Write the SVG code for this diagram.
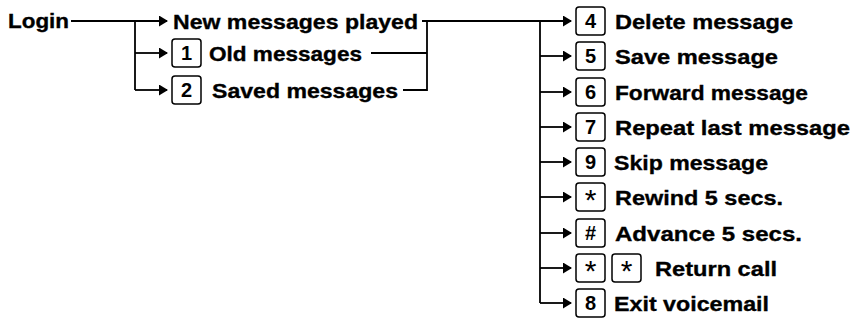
<svg xmlns="http://www.w3.org/2000/svg" width="858" height="322" viewBox="0 0 858 322">
<defs>
<marker id="arr" markerUnits="userSpaceOnUse" markerWidth="9" markerHeight="11" viewBox="0 0 9 11" refX="8" refY="5.5" orient="auto">
<path d="M0,0 L9,5.5 L0,11 z" fill="#000"/>
</marker>
<style>
.t{font-family:"Liberation Sans",Arial,sans-serif;font-weight:bold;font-size:21px;fill:#000;stroke:#000;stroke-width:0.35}
.k{font-family:"Liberation Sans",Arial,sans-serif;font-weight:bold;font-size:20px;fill:#000;text-anchor:middle}
.s{font-family:"Liberation Sans",Arial,sans-serif;font-size:30px;fill:#000;text-anchor:middle}
.b{fill:#fff;stroke:#000;stroke-width:1.5}
.c{fill:none;stroke:#000;stroke-width:1.8}
.a{marker-end:url(#arr)}
</style>
</defs>
<rect width="858" height="322" fill="#fff"/>
<g id="connectors">
<path class="c a" d="M71,21 H167"/>
<path class="c" d="M135,21 V90"/>
<path class="c a" d="M135,53 H167"/>
<path class="c a" d="M135,90 H167"/>
<path class="c" d="M371,53 H427"/>
<path class="c" d="M403,90 H427 V21"/>
<path class="c a" d="M422,21 H571"/>
<path class="c" d="M540,21 V303"/>
<path class="c a" d="M540,56 H571"/>
<path class="c a" d="M540,92 H571"/>
<path class="c a" d="M540,127 H571"/>
<path class="c a" d="M540,162 H571"/>
<path class="c a" d="M540,197 H571"/>
<path class="c a" d="M540,233 H571"/>
<path class="c a" d="M540,268 H571"/>
<path class="c a" d="M540,303 H571"/>
</g>
<g id="login"><text class="t" x="8" y="28" textLength="61" lengthAdjust="spacingAndGlyphs">Login</text></g>
<g id="new"><text class="t" x="173" y="29" textLength="245" lengthAdjust="spacingAndGlyphs">New messages played</text></g>
<g id="old"><rect class="b" x="172" y="39" width="29" height="28" rx="3"/><text class="k" x="186.5" y="60">1</text><text class="t" x="209" y="61" textLength="153" lengthAdjust="spacingAndGlyphs">Old messages</text></g>
<g id="saved"><rect class="b" x="172" y="76" width="29" height="28" rx="3"/><text class="k" x="186.5" y="97">2</text><text class="t" x="212" y="98" textLength="186" lengthAdjust="spacingAndGlyphs">Saved messages</text></g>
<g id="delete"><rect class="b" x="576" y="7" width="29" height="28" rx="3"/><text class="k" x="590.5" y="28">4</text><text class="t" x="615" y="29" textLength="178" lengthAdjust="spacingAndGlyphs">Delete message</text></g>
<g id="save"><rect class="b" x="576" y="42" width="29" height="28" rx="3"/><text class="k" x="590.5" y="63">5</text><text class="t" x="615" y="64" textLength="163" lengthAdjust="spacingAndGlyphs">Save message</text></g>
<g id="forward"><rect class="b" x="576" y="78" width="29" height="28" rx="3"/><text class="k" x="590.5" y="99">6</text><text class="t" x="615" y="100" textLength="193" lengthAdjust="spacingAndGlyphs">Forward message</text></g>
<g id="repeat"><rect class="b" x="576" y="113" width="29" height="28" rx="3"/><text class="k" x="590.5" y="134">7</text><text class="t" x="615" y="135" textLength="235" lengthAdjust="spacingAndGlyphs">Repeat last message</text></g>
<g id="skip"><rect class="b" x="576" y="148" width="29" height="28" rx="3"/><text class="k" x="590.5" y="169">9</text><text class="t" x="614" y="170" textLength="154" lengthAdjust="spacingAndGlyphs">Skip message</text></g>
<g id="rewind"><rect class="b" x="576" y="183" width="29" height="28" rx="3"/><text class="s" x="590.5" y="210">*</text><text class="t" x="615" y="205" textLength="168" lengthAdjust="spacingAndGlyphs">Rewind 5 secs.</text></g>
<g id="advance"><rect class="b" x="576" y="219" width="29" height="28" rx="3"/><text class="k" x="590.5" y="240">#</text><text class="t" x="615" y="241" textLength="187" lengthAdjust="spacingAndGlyphs">Advance 5 secs.</text></g>
<g id="return"><rect class="b" x="576" y="254" width="29" height="28" rx="3"/><text class="s" x="590.5" y="281">*</text><rect class="b" x="612" y="254" width="29" height="28" rx="3"/><text class="s" x="626.5" y="281">*</text><text class="t" x="655" y="276" textLength="122" lengthAdjust="spacingAndGlyphs">Return call</text></g>
<g id="exit"><rect class="b" x="576" y="289" width="29" height="28" rx="3"/><text class="k" x="590.5" y="310">8</text><text class="t" x="614" y="311" textLength="155" lengthAdjust="spacingAndGlyphs">Exit voicemail</text></g>
</svg>
